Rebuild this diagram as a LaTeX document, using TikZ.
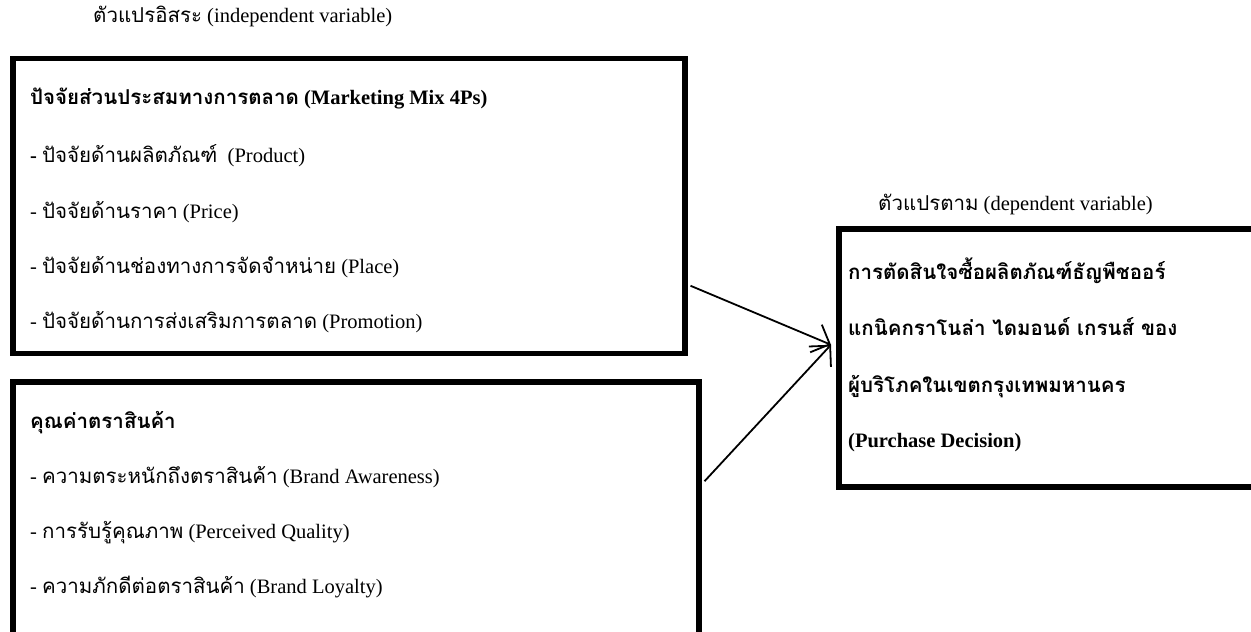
\documentclass[tikz,border=0pt]{standalone}
\usepackage{fontspec}
\setmainfont{Liberation Serif}
\newfontfamily\thaifont[Script=Thai]{Loma}
\usetikzlibrary{arrows.meta}

\newcommand{\thai}[1]{{\thaifont #1}}

\tikzset{
  frame/.style={draw,line width=5.5pt,rectangle,anchor=north west,inner sep=0pt},
  item/.style={anchor=base west,inner sep=0pt},
  head/.style={item,font=\bfseries},
  link/.style={-{Straight Barb[length=15pt,width=30pt]},line width=1.8pt}
}

\begin{document}
\fontsize{20.5}{24}\selectfont
\begin{tikzpicture}[x=1pt,y=-1pt]
  \useasboundingbox (0,0) rectangle (1251,632);
  \clip (0,0) rectangle (1251,632);

  % independent variables
  \node[item] (ivlabel) at (93,22) {\thai{ตัวแปรอิสระ} (independent variable)};

  \node[frame,minimum width=672pt,minimum height=295pt] (mix) at (10,55.5) {};
  \node[head] (mixhead) at (30,104) {\thai{ปัจจัยส่วนประสมทางการตลาด} (Marketing Mix 4Ps)};
  \node[item] (product) at (30,162) {\textbf{-} \thai{ปัจจัยด้านผลิตภัณฑ์}\ \ (Product)};
  \node[item] (price) at (30,218) {- \thai{ปัจจัยด้านราคา} (Price)};
  \node[item] (place) at (30,273) {- \thai{ปัจจัยด้านช่องทางการจัดจำหน่าย} (Place)};
  \node[item] (promotion) at (30,328) {- \thai{ปัจจัยด้านการส่งเสริมการตลาด} (Promotion)};

  \node[frame,minimum width=686pt,minimum height=301pt] (equity) at (10,379) {};
  \node[head] (equityhead) at (30,428) {\thai{คุณค่าตราสินค้า}};
  \node[item] (awareness) at (30,483) {- \thai{ความตระหนักถึงตราสินค้า} (Brand Awareness)};
  \node[item] (quality) at (30,538) {- \thai{การรับรู้คุณภาพ} (Perceived Quality)};
  \node[item] (loyalty) at (30,593) {- \thai{ความภักดีต่อตราสินค้า} (Brand Loyalty)};

  % dependent variable
  \node[item] (dvlabel) at (878,210) {\thai{ตัวแปรตาม} (dependent variable)};

  \node[frame,minimum width=434pt,minimum height=258pt] (dv) at (836,226) {};
  \node[head] (dv1) at (848,279) {\thai{การตัดสินใจซื้อผลิตภัณฑ์ธัญพืชออร์}};
  \node[head] (dv2) at (848,335) {\thai{แกนิคกราโนล่า ไดมอนด์ เกรนส์ ของ}};
  \node[head] (dv3) at (848,392) {\thai{ผู้บริโภคในเขตกรุงเทพมหานคร}};
  \node[head] (dv4) at (848,447) {(Purchase Decision)};

  \draw[link] ([xshift=3pt,yshift=-80pt]mix.east) -- ([xshift=-5pt,yshift=13pt]dv.west);
  \draw[link] ([xshift=3pt,yshift=51pt]equity.east) -- ([xshift=-5pt,yshift=13pt]dv.west);
\end{tikzpicture}
\end{document}
